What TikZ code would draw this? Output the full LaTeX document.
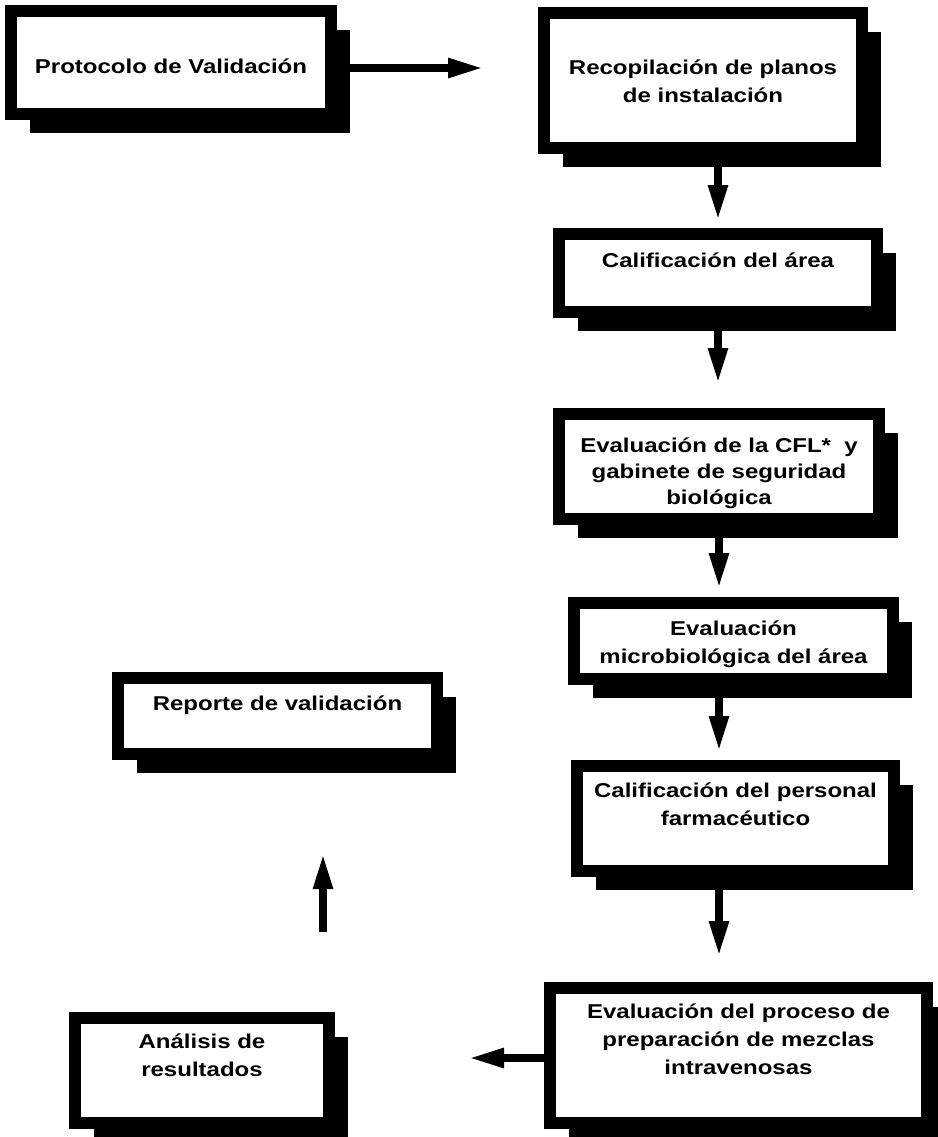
\documentclass[tikz,border=0pt]{standalone}
\usepackage{fontspec}
\usepackage{tikz}
\usetikzlibrary{arrows.meta,shadows}
\newfontfamily\boxfont{Liberation Sans}[FakeStretch=1.2]
\tikzstyle{stepBox}=[draw, line width = 6pt, fill = white, inner xsep = 6pt, inner ysep = 0pt, align = center, font = \boxfont\bfseries\fontsize{10}{14}\selectfont, drop shadow = {shadow xshift = 9.5pt, shadow yshift = -9.5pt, fill = black, opacity = 1}]

\begin{document}
\begin{tikzpicture}[x = 0.5pt, y = -0.5pt]
\tikzstyle{flowArrow}=[line width = 4pt, -{Triangle[length = 18pt, width = 9pt]}]
\useasboundingbox (0,0) rectangle (938,1137);
\node[stepBox, text width = 148pt, text height = 31pt, text depth = 20.5pt] (b0) at (171,62.5) {Protocolo de Validación};
\node[stepBox, text width = 147pt, text height = 30.5pt, text depth = 37pt] (b1) at (703,80.5) {Recopilación de planos\\de instalación};
\node[stepBox, text width = 147pt, text height = 16.5pt, text depth = 22.5pt] (b2) at (718,273) {Calificación del área};
\node[stepBox, text width = 148pt, text height = 19pt, text depth = 33.5pt, font = \boxfont\bfseries\fontsize{10}{13}\selectfont] (b3) at (719,466.5) {Evaluación de la CFL*~ y\\gabinete de seguridad\\biológica};
\node[stepBox, text width = 147.5pt, text height = 16pt, text depth = 22pt] (b4) at (733.5,641) {Evaluación\\microbiológica del área};
\node[stepBox, text width = 146.5pt, text height = 15.5pt, text depth = 37pt] (b5) at (735.5,818.5) {Calificación del personal\\farmacéutico};
\node[stepBox, text width = 176.5pt, text height = 15pt, text depth = 52.5pt] (b6) at (738.5,1055.5) {Evaluación del proceso de\\preparación de mezclas\\intravenosas};
\node[stepBox, text width = 115pt, text height = 15pt, text depth = 37.5pt] (b7) at (202,1070.5) {Análisis de\\resultados};
\node[stepBox, text width = 147.5pt, text height = 16pt, text depth = 22pt] (b8) at (277.5,716) {Reporte de validación};
\coordinate (up) at ([xshift = 60.5pt]b7.north);
\draw[flowArrow, shorten >= 27pt] ([yshift = -2.75pt]b0.east) -- ([yshift = -2.75pt]b0.east -| b1.west);
\draw[flowArrow, shorten >= 3.5pt] (b1.south -| b2.north) -- (b2.north);
\draw[flowArrow, shorten >= 12pt] (b2.south) -- (b2.south |- b3.north);
\draw[flowArrow, shorten >= 4pt] (b3.south) -- (b3.south |- b4.north);
\draw[flowArrow, shorten >= 4pt] (b4.south -| b3.south) -- (b3.south |- b5.north);
\draw[flowArrow, shorten >= 12.5pt] (b5.south -| b3.south) -- (b3.south |- b6.north);
\draw[flowArrow, shorten >= 66.5pt] ([yshift = -1.25pt]b6.west) -- ([yshift = -1.25pt]b6.west -| b7.east);
\draw[flowArrow, shorten <= 40pt, shorten >= 46.5pt] (up) -- (up |- b8.south);
%
\end{tikzpicture}
\end{document}
